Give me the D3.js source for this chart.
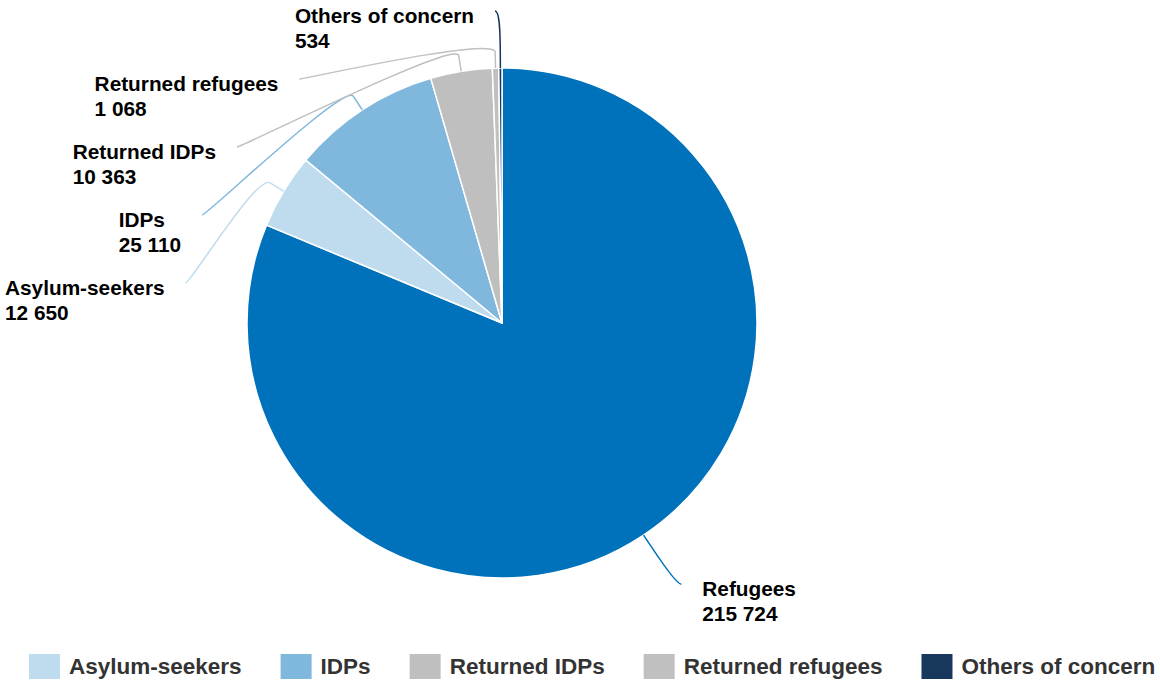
<!DOCTYPE html>
<html>
<head>
<meta charset="utf-8">
<script src="https://cdn.jsdelivr.net/npm/d3@7"></script>
<style>
  body { margin: 0; background: #fff; }
  svg { display: block; font-family: "Liberation Sans", Arial, sans-serif; }
</style>
</head>
<body>
<div id="chart"></div>
<script>
// data
const categories = ["Refugees", "Asylum-seekers", "IDPs", "Returned IDPs", "Returned refugees", "Others of concern"];
const values = [215724, 12650, 25110, 10363, 1068, 534];
const legendItems = ["Asylum-seekers", "IDPs", "Returned IDPs", "Returned refugees", "Others of concern"];
const sliceColors = ["#0072bc", "#bfdcee", "#7fb7dd", "#bfbfbf", "#c0c0c0", "#18375d"];

const width = 1160, height = 687;
const cx = 502, cy = 323, radius = 255;
const labelRadius = 314, breakOffset = 16, pad = 5, labelStep = 68, topBound = 11;

let svg = d3.select("#chart")
    .append("svg")
    .attr("width", width)
    .attr("height", height);

let color = d3.scaleOrdinal().domain(categories).range(sliceColors);
let fmt = d3.formatLocale({decimal: ".", thousands: " ", grouping: [3], currency: ["", ""]}).format(",");

let data = categories.map((c, i) => ({name: c, value: values[i]}));
let pie = d3.pie().sort(null).value(d => d.value);
let arcs = pie(data);
let arc = d3.arc().innerRadius(0).outerRadius(radius);

let g = svg.append("g").attr("transform", `translate(${cx}, ${cy})`);

// slices
g.selectAll("path.slice")
    .data(arcs)
    .enter()
    .append("path")
    .attr("class", "slice")
    .attr("d", arc)
    .attr("fill", d => color(d.data.name))
    .attr("stroke", "#fff")
    .attr("stroke-width", 1.5)
    .attr("stroke-linejoin", "round");

// label positions, highcharts-like: natural spot on a bigger circle, then pushed apart
function polar(a, r) {
    return [cx + r * Math.sin(a), cy - r * Math.cos(a)];
}
let labels = arcs.map(d => {
    let mid = (d.startAngle + d.endAngle) / 2;
    let nat = polar(mid, labelRadius);
    return {d: d, mid: mid, left: mid > Math.PI, natX: nat[0], natY: nat[1], y: nat[1]};
});

// left side: stack from the top
let leftLabels = labels.filter(l => l.left).sort((a, b) => a.natY - b.natY);
let prev = topBound - labelStep;
leftLabels.forEach(l => {
    l.y = Math.max(l.natY, prev + labelStep, topBound);
    prev = l.y;
});
labels.forEach(l => {
    let dy = l.y - cy;
    let side = l.left ? -1 : 1;
    if (Math.abs(l.y - l.natY) < 10) {
        l.x = l.natX + side * pad;
    } else {
        l.x = cx + side * (Math.sqrt(Math.max(labelRadius * labelRadius - dy * dy, 0)) + pad);
    }
});

// connectors
function connector(l) {
    let t = polar(l.mid, radius);
    let b = polar(l.mid, radius + breakOffset);
    let c1x = l.x + (l.left ? 5 : -5);
    let p = d3.path();
    p.moveTo(l.x, l.y);
    p.bezierCurveTo(c1x, l.y, 2 * b[0] - t[0], 2 * b[1] - t[1], b[0], b[1]);
    p.lineTo(t[0], t[1]);
    return p.toString();
}
svg.selectAll("path.conn")
    .data(labels)
    .enter()
    .append("path")
    .attr("class", "conn")
    .attr("d", connector)
    .attr("fill", "none")
    .attr("stroke", l => color(l.d.data.name))
    .attr("stroke-width", 1.5);

// label texts: two lines, left aligned inside a box that sits beside the connector end
let txt = svg.selectAll("text.lbl")
    .data(labels)
    .enter()
    .append("text")
    .attr("class", "lbl")
    .attr("y", l => l.y + 12)
    .style("font-size", "20.8px")
    .style("font-weight", "bold")
    .style("fill", "#000");
txt.append("tspan")
    .attr("x", 0)
    .text(l => l.d.data.name);
txt.append("tspan")
    .attr("x", 0)
    .attr("dy", 25)
    .text(l => fmt(l.d.data.value));
txt.each(function(l) {
    let w = this.getBBox().width;
    let x0 = l.left ? l.x - 21 - w : l.x + 21;
    d3.select(this).selectAll("tspan").attr("x", x0);
});

// legend
let legend = svg.append("g").attr("class", "legend");
let lx = 29;
legendItems.forEach(name => {
    let item = legend.append("g").attr("transform", `translate(${lx}, 654)`);
    item.append("rect")
        .attr("width", 31)
        .attr("height", 25)
        .attr("fill", color(name));
    let t = item.append("text")
        .attr("x", 40)
        .attr("y", 20)
        .style("font-size", "22.5px")
        .style("font-weight", "bold")
        .style("fill", "#333")
        .text(name);
    lx += 40 + t.node().getComputedTextLength() + 39;
});
</script>
</body>
</html>
